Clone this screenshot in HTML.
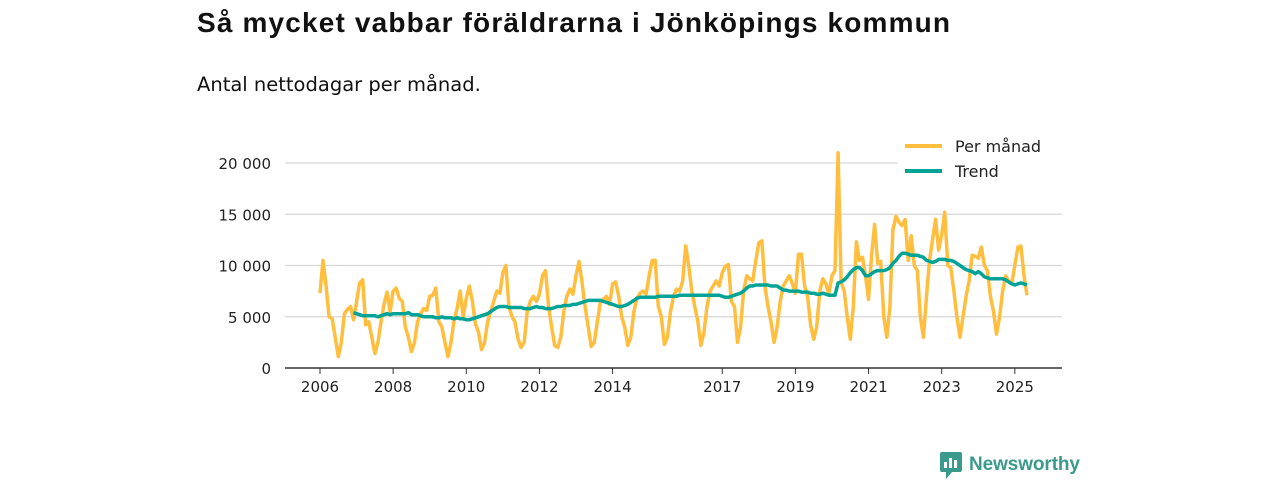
<!DOCTYPE html>
<html><head><meta charset="utf-8"><style>
body{margin:0;width:1280px;height:480px;background:#fff;font-family:"Liberation Sans","DejaVu Sans",sans-serif;overflow:hidden}
svg text{font-family:"DejaVu Sans","Liberation Sans",sans-serif}
</style></head><body>
<svg width="1280" height="480">
<text x="197" y="32" font-size="28" font-weight="bold" fill="#111" style="font-family:'Liberation Sans',sans-serif" textLength="753">Så mycket vabbar föräldrarna i Jönköpings kommun</text>
<text x="197" y="91" font-size="19.5" fill="#111">Antal nettodagar per månad.</text>
<g id="grid"></g><g id="axes"></g><g id="series"></g>
<g>
<rect x="898" y="132" width="164" height="54" fill="#fff"/>
<line x1="905" y1="146" x2="942" y2="146" stroke="#ffbe3d" stroke-width="4"/>
<text x="955" y="152" font-size="16" fill="#222">Per månad</text>
<line x1="905" y1="171" x2="942" y2="171" stroke="#00a396" stroke-width="4"/>
<text x="955" y="177" font-size="16" fill="#222">Trend</text>
</g>
<g>
<rect x="940" y="452" width="22" height="20" rx="2" fill="#3a9a8c"/>
<polygon points="946,472 952,472 946,479" fill="#3a9a8c"/>
<rect x="944" y="462" width="3" height="6" fill="#fff"/><rect x="949" y="458" width="3" height="10" fill="#fff"/><rect x="954" y="460" width="3" height="8" fill="#fff"/>
<text x="969" y="470" font-size="19" font-weight="bold" fill="#3a9a8c" style="font-family:'Liberation Sans',sans-serif" textLength="111">Newsworthy</text>
</g>
</svg>
<script>
const yTicks=[0,5000,10000,15000,20000];
const yTickLabels=["0","5 000","10 000","15 000","20 000"];
const xTicks=[2006,2008,2010,2012,2014,2017,2019,2021,2023,2025];
const monthlyStart=2006;
const monthly=[
7.3,10.5,8,5,4.8,3,1.1,2.5,5.3,5.7,6,4.7,
6.5,8.3,8.6,4.2,4.5,3,1.4,2.5,4.5,6.2,7.4,5.5,
7.5,7.8,6.8,6.5,4,3,1.6,2.5,4.5,5.3,5.8,5.6,
7,7.1,7.8,4.5,4,2.5,1.1,2.5,4.7,5.8,7.5,5,
6.8,8,6.5,4.3,3.5,1.8,2.5,4.5,5.5,6.5,7.5,7.3,
9.3,10,6,5,4.5,2.8,2,2.5,5.5,6.5,7,6.5,
7.2,9,9.5,6,4,2.2,2,3,5.5,7,7.7,7.2,
9,10.4,8.3,6,4,2.1,2.5,4.5,6.5,6.7,7,6.2,
8.2,8.4,7,5,4,2.2,3,5.5,6.8,7.3,7.5,7.2,
9,10.5,10.5,6,5,2.3,3,5.5,7,7.7,7.5,8.5,
11.9,10,7.5,6,4.5,2.2,3.5,6,7.5,8,8.5,8,
9.3,9.9,10.1,6.5,6,2.5,4,7.5,9,8.7,8.5,10.5,
12.2,12.4,8,6,4.5,2.5,4,6.5,8,8.5,9,8.2,
7.3,11.1,11.1,8,7,4.2,2.8,4,7.5,8.7,8.2,7.2,
9,9.5,21,8.4,7.5,5,2.8,6,12.3,10.5,10.8,9,
6.7,11,14,10.2,10.4,5,3,6,13.5,14.8,14.2,13.9,
14.5,10.5,12.9,10,9.5,5,3,7,10.5,12.5,14.5,11.5,
13,15.2,10,9.8,7.5,5,3,5,7,8.5,11,10.9,
10.7,11.8,10,9.5,7,5.5,3.3,5,7.5,9,8.5,8.3,
10,11.8,11.9,9,7.1];
const trendStart=2006+11/12;
const trend=[5.4,
5.3,5.2,5.1,5.1,5.1,5.1,5.1,5.0,5.1,5.2,5.3,5.2,
5.3,5.3,5.3,5.3,5.3,5.4,5.2,5.2,5.2,5.1,5.0,5.0,
5.0,5.0,4.9,4.9,5.0,4.9,4.9,4.9,4.8,4.9,4.8,4.8,
4.7,4.7,4.8,4.9,5.0,5.1,5.2,5.3,5.5,5.7,5.9,6.0,
6.0,6.0,5.9,5.9,5.9,5.9,5.9,5.8,5.8,5.8,5.9,6.0,
5.9,5.9,5.8,5.8,5.8,5.9,6.0,6.0,6.1,6.1,6.1,6.2,
6.2,6.3,6.4,6.5,6.6,6.6,6.6,6.6,6.6,6.5,6.4,6.3,
6.2,6.1,6.0,6.0,6.1,6.2,6.4,6.6,6.8,6.9,6.9,6.9,
6.9,6.9,6.9,7.0,7.0,7.0,7.0,7.0,7.0,7.0,7.1,7.1,
7.1,7.1,7.1,7.1,7.1,7.1,7.1,7.1,7.1,7.1,7.1,7.1,
7.0,6.9,6.9,7.0,7.1,7.2,7.3,7.5,7.8,8.0,8.0,8.1,
8.1,8.1,8.1,8.1,8.0,8.0,8.0,7.8,7.6,7.6,7.5,7.5,
7.5,7.5,7.4,7.4,7.4,7.3,7.3,7.2,7.2,7.3,7.2,7.1,
7.1,7.1,8.3,8.4,8.6,8.9,9.3,9.6,9.8,9.8,9.5,9.0,
9.0,9.2,9.4,9.5,9.5,9.5,9.6,9.8,10.2,10.5,10.9,11.2,
11.2,11.1,11.0,11.0,11.0,10.9,10.8,10.5,10.4,10.3,10.4,10.6,
10.6,10.6,10.5,10.5,10.4,10.2,10.0,9.8,9.6,9.5,9.4,9.2,
9.4,9.2,8.9,8.8,8.7,8.7,8.7,8.7,8.7,8.6,8.4,8.2,
8.1,8.2,8.3,8.2,8.1];
const NS='http://www.w3.org/2000/svg';
const x0=285,x1=1062;
const X=t=>320+(t-2006)*36.57;
const Y=v=>368-v*10.25/1000;
function mk(tag,attrs,parent){const e=document.createElementNS(NS,tag);for(const k in attrs)e.setAttribute(k,attrs[k]);parent.appendChild(e);return e;}
const grid=document.getElementById('grid'),axes=document.getElementById('axes'),series=document.getElementById('series');
yTicks.forEach((v,i)=>{
 if(v>0){const l=mk('line',{x1:x0,x2:x1,y1:Y(v),y2:Y(v),stroke:'#d6d6d6','stroke-width':1.3},grid);
 
 }
 const t=mk('text',{x:271,y:Y(v)+6,'text-anchor':'end','font-size':15,fill:'#222'},axes);t.textContent=yTickLabels[i];
 
 
});
const ax=mk('line',{x1:x0,x2:x1,y1:368,y2:368,stroke:'#333','stroke-width':1.5},axes);


xTicks.forEach(yr=>{
 mk('line',{x1:X(yr),x2:X(yr),y1:368,y2:374,stroke:'#333','stroke-width':1},axes);
 const t=mk('text',{x:X(yr),y:392,'text-anchor':'middle','font-size':15,fill:'#222'},axes);t.textContent=yr;
 
 
});
const pm=monthly.map((v,i)=>X(monthlyStart+i/12).toFixed(1)+','+Y(v*1000).toFixed(1)).join(' ');
const p1=mk('polyline',{points:pm,fill:'none',stroke:'#ffbe3d','stroke-width':3.5,'stroke-linejoin':'round'},series);


const pt=trend.map((v,i)=>X(trendStart+i/12).toFixed(1)+','+Y(v*1000).toFixed(1)).join(' ');
const p2=mk('polyline',{points:pt,fill:'none',stroke:'#00a396','stroke-width':3.5,'stroke-linejoin':'round'},series);


</script>
</body></html>
